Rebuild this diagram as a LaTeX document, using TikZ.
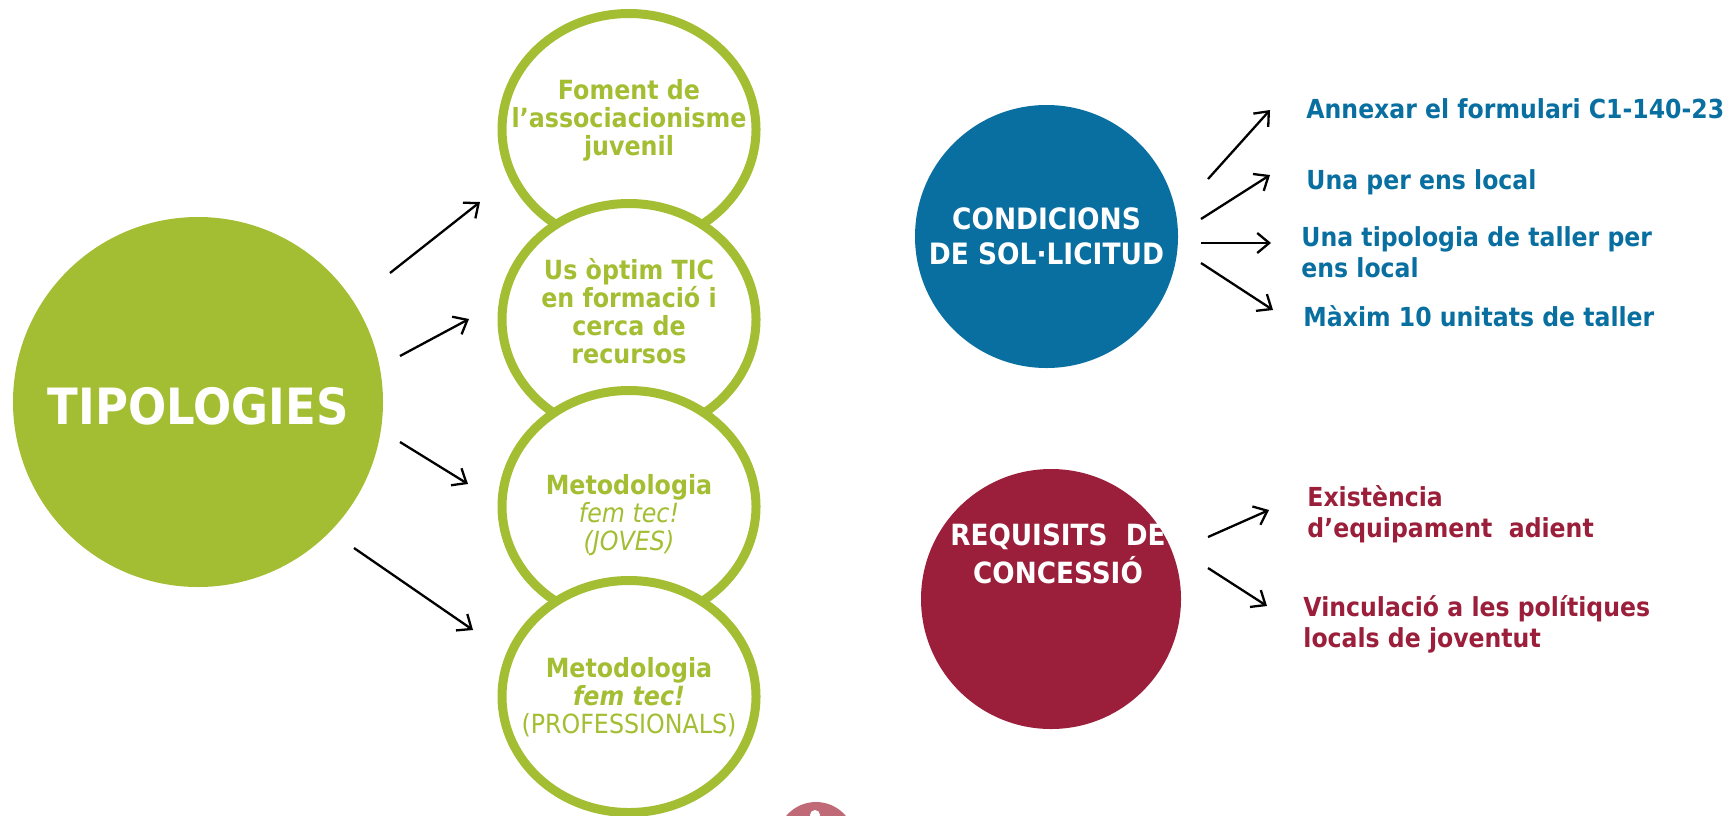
\documentclass[tikz,border=0pt]{standalone}
\usepackage{fontspec}
\setmainfont{DejaVu Sans}[FakeStretch=0.9]
\usetikzlibrary{arrows.meta,shapes.geometric,calc}

\definecolor{tipgreen}{RGB}{163,190,50}
\definecolor{condblue}{RGB}{8,111,160}
\definecolor{reqred}{RGB}{155,31,58}
\definecolor{pinkmark}{RGB}{192,106,120}

\begin{document}
\begin{tikzpicture}[x=0.5pt,y=-0.5pt,>={Straight Barb[length=6pt,width=10pt]}]
        \tikzset{disc/.style={circle, inner sep=0pt, text=white, align=center},
        ring/.style={ellipse, draw=tipgreen, line width=4.5pt, fill=white, inner sep=0pt,
                minimum width=127pt, minimum height=116pt},
        ringtxt/.style={anchor=base, align=center, inner sep=0pt, text=tipgreen,
                font=\fontsize{13.2}{14}\selectfont},
        item/.style={anchor=base west, align=left, inner sep=0pt,
                font=\bfseries\fontsize{13.1}{15.5}\selectfont},
        arr/.style={->, line width=1.15pt},
        }
        \useasboundingbox (0,0) rectangle (1732,815);

        \node [disc, fill=tipgreen, minimum size=185pt, text height=22pt, text depth=0pt,
                font=\bfseries\fontsize{25}{30}\selectfont] (tipos) at (198,402) {TIPOLOGIES};

        % the four typologies, each ring over the one above
        \node [ring] (assoc) at (629,129.5) {};
        \node [ring] (tic) at (629,319.5) {};
        \node [ring] (joves) at (629,506.5) {};
        \node [ring] (profs) at (629,696.5) {};
        \node [ringtxt] (assoc_txt) at ($(assoc)+(0,25.5)$) {\bfseries Foment de\\\bfseries l’associacionisme\\\bfseries juvenil};
        \node [ringtxt] (tic_txt) at ($(tic)+(0,43.5)$) {\bfseries Us òptim TIC\\\bfseries en formació i\\\bfseries cerca de\\\bfseries recursos};
        \node [ringtxt] (joves_txt) at ($(joves)+(0,43.5)$) {\textbf{Metodologia}\\\textit{fem tec!}\\\textit{(JOVES)}};
        \node [ringtxt] (profs_txt) at ($(profs)+(0,36.5)$) {\textbf{Metodologia}\\\textbf{\textit{fem tec!}}\\(PROFESSIONALS)};

        \node [disc, fill=condblue, minimum size=131.5pt,
                font=\bfseries\fontsize{14.7}{17.5}\selectfont] (cond) at (1046.5,236.5) {CONDICIONS\\DE SOL·LICITUD};
        \node [disc, fill=reqred, minimum size=130pt] (req) at (1051,599) {};
        \node [anchor=base, align=center, inner sep=0pt, text=white,
                font=\bfseries\fontsize{14.6}{19}\selectfont] (req_txt) at ($(req)+(7,-16)$) {REQUISITS~~DE\\CONCESSIÓ};

        \node [item, text=condblue] (annex) at (1306,118) {Annexar el formulari C1-140-23};
        \node [item, text=condblue] (una) at (1306,189) {Una per ens local};
        \node [item, text=condblue] (tipol) at (1301,277) {Una tipologia de taller per\\ens local};
        \node [item, text=condblue] (maxim) at (1303,326) {Màxim 10 unitats de taller};
        \node [item, text=reqred] (equip) at (1307,537) {Existència\\d’equipament~~adient};
        \node [item, text=reqred] (vinc) at (1303,647) {Vinculació a les polítiques\\locals de joventut};

        % arrow ends
        \coordinate (ta1) at (390,273);   \coordinate (tb1) at (480,202);
        \coordinate (ta2) at (400,356);   \coordinate (tb2) at (469,319);
        \coordinate (ta3) at (400,442);   \coordinate (tb3) at (468,484);
        \coordinate (ta4) at (354,548);   \coordinate (tb4) at (473,630);
        \coordinate (ca1) at (1208,179);  \coordinate (cb1) at (1270,110);
        \coordinate (ca2) at (1201,219);  \coordinate (cb2) at (1270,175);
        \coordinate (ca3) at (1201,243);  \coordinate (cb3) at (1271,243);
        \coordinate (ca4) at (1201,263);  \coordinate (cb4) at (1273,310);
        \coordinate (ra1) at (1208,537);  \coordinate (rb1) at (1269,510);
        \coordinate (ra2) at (1208,568);  \coordinate (rb2) at (1267,606);

%% paths
        \path[arr] (ta1) edge (tb1)
                (ta2) edge (tb2)
                (ta3) edge (tb3)
                (ta4) edge (tb4)
                (ca1) edge (cb1)
                (ca2) edge (cb2)
                (ca3) edge (cb3)
                (ca4) edge (cb4)
                (ra1) edge (rb1)
                (ra2) edge (rb2);

        % mark cut by the lower edge
        \fill[pinkmark] (816,841) circle[radius=19.5pt];
        \fill[white] (815,815) circle[radius=2.5pt];
\end{tikzpicture}
\end{document}
